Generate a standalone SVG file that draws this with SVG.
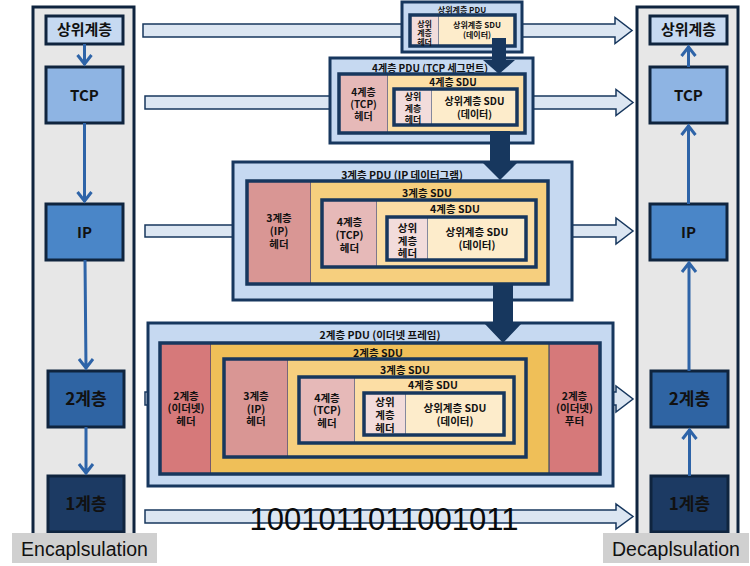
<svg xmlns="http://www.w3.org/2000/svg" width="750" height="566" viewBox="0 0 750 566">
<style>
text{font-family:"Noto Sans CJK KR","Liberation Sans",sans-serif;fill:#111;text-anchor:middle}
.col{fill:#e7e7e7;stroke:#0f243e;stroke-width:3}
.lyr{stroke:#0f243e;stroke-width:3}
.lt{font-size:15px;font-weight:bold}
.lt2{font-size:17px;font-weight:bold}
.lbl{fill:#d0d0d0}
.lbt{font-family:"Liberation Sans",sans-serif;font-size:19.5px;fill:#111}
.vl{stroke:#2e64a8;stroke-width:3;fill:none}
.ha{fill:#dce6f2;stroke:#17375e;stroke-width:1.5}
.da{fill:#17375e}
.pdu{fill:#c6d9f1;stroke:#17375e;stroke-width:3}
.frm{fill:none;stroke:#17375e;stroke-width:3.5}
.h4{fill:#f2dcdb;stroke:#17375e;stroke-width:1}
.hT{fill:#e6b9b8;stroke:#17375e;stroke-width:1}
.hI{fill:#d99694;stroke:#17375e;stroke-width:1}
.hE{fill:#d6797a;stroke:#17375e;stroke-width:1}
.dat{fill:#fdeccb}
.s4{fill:#fcdea5}
.s3{fill:#f6cf7e}
.s2{fill:#efbf58}
.t11{font-size:10.5px;font-weight:bold}
.t10{font-size:10px;font-weight:bold}
.t9{font-size:9px;font-weight:bold}
.t8{font-size:8px;font-weight:bold}
.bin{font-family:"Liberation Sans",sans-serif;font-size:31px;fill:#0a0a0a}
</style>

<!-- horizontal flow arrows -->
<g id="flow-arrows">
<polygon class="ha" points="143,24 615,24 615,17.5 632,30.5 615,43.5 615,37 143,37"/>
<polygon class="ha" points="145,96 616,96 616,89.5 633,102.5 616,115.5 616,109 145,109"/>
<polygon class="ha" points="145,225 616,225 616,218 633,231 616,244 616,237 145,237"/>
<polygon class="ha" points="145,392 616,392 616,386 633,399 616,412 616,405 145,405"/>
<polygon class="ha" points="145,510 616,510 616,504 633,516.5 616,529 616,523 145,523"/>
</g>

<!-- left column: encapsulation -->
<g id="encap-column">
<rect class="col" x="33" y="7" width="101" height="535"/>
</g>
<g id="enc-upper"><rect class="lyr" x="46" y="16" width="77" height="28" fill="#c6d9f1"/><text class="lt" x="84.5" y="35">상위계층</text></g>
<g id="enc-tcp"><rect class="lyr" x="46" y="67" width="77" height="56" fill="#8eb4e3"/><text class="lt" x="84.5" y="100.5">TCP</text></g>
<g id="enc-ip"><rect class="lyr" x="46" y="204" width="77" height="56" fill="#4a86c8"/><text class="lt" x="84.5" y="237.5">IP</text></g>
<g id="enc-l2"><rect class="lyr" x="48" y="371" width="76" height="56" fill="#2f64a3"/><text class="lt2" x="86" y="405">2계층</text></g>
<g id="enc-l1"><rect class="lyr" x="48" y="476" width="76" height="56" fill="#1c3a63"/><text class="lt2" x="86" y="510">1계층</text></g>

<!-- right column: decapsulation -->
<g id="decap-column">
<rect class="col" x="637" y="7" width="101" height="535"/>
</g>
<g id="dec-upper"><rect class="lyr" x="650" y="16" width="77" height="28" fill="#c6d9f1"/><text class="lt" x="688.5" y="35">상위계층</text></g>
<g id="dec-tcp"><rect class="lyr" x="650" y="67" width="77" height="56" fill="#8eb4e3"/><text class="lt" x="688.5" y="100.5">TCP</text></g>
<g id="dec-ip"><rect class="lyr" x="650" y="204" width="77" height="56" fill="#4a86c8"/><text class="lt" x="688.5" y="237.5">IP</text></g>
<g id="dec-l2"><rect class="lyr" x="651" y="371" width="77" height="56" fill="#2f64a3"/><text class="lt2" x="689.5" y="405">2계층</text></g>
<g id="dec-l1"><rect class="lyr" x="651" y="476" width="77" height="56" fill="#1c3a63"/><text class="lt2" x="689.5" y="510">1계층</text></g>

<!-- column connectors -->
<g id="column-connectors">
<path class="vl" d="M84.5,44 V65 M77.5,55 L84.5,64 L91.5,55"/>
<path class="vl" d="M84.5,123 V202 M77.5,192 L84.5,201 L91.5,192"/>
<path class="vl" d="M85,260 L86,369 M79,359 L86,368 L93,359"/>
<path class="vl" d="M86,427 V474 M79,464 L86,473 L93,464"/>
<path class="vl" d="M688.5,67 V46 M681.5,56 L688.5,47 L695.5,56"/>
<path class="vl" d="M688.5,204 V125 M681.5,135 L688.5,126 L695.5,135"/>
<path class="vl" d="M689,371 V262 M682,272 L689,263 L696,272"/>
<path class="vl" d="M689.5,476 V429 M682.5,439 L689.5,430 L696.5,439"/>
</g>

<!-- upper layer PDU -->
<g id="pdu-upper">
<rect class="pdu" x="402" y="2" width="120" height="50"/>
<text class="t8" x="462" y="13">상위계층 PDU</text>
<rect class="h4" x="410" y="15" width="29" height="31"/>
<rect class="dat" x="439" y="15" width="76" height="31"/>
<rect class="frm" x="410" y="15" width="105" height="31"/>
<text class="t8" x="424.5" y="27">상위</text><text class="t8" x="424.5" y="36">계층</text><text class="t8" x="424.5" y="45">헤더</text>
<text class="t8" x="477" y="28">상위계층 SDU</text><text class="t8" x="477" y="38">(데이터)</text>
</g>

<!-- layer 4 PDU -->
<g id="pdu-l4">
<rect class="pdu" x="330" y="58" width="203" height="85"/>
<text class="t10" x="430" y="72">4계층 PDU (TCP 세그먼트)</text>
<rect class="hT" x="339" y="74" width="49" height="59"/>
<rect class="s4" x="388" y="74" width="137" height="59"/>
<rect class="frm" x="339" y="74" width="186" height="59"/>
<text class="t10" x="363.5" y="95.5">4계층</text><text class="t10" x="363.5" y="107.5">(TCP)</text><text class="t10" x="363.5" y="119.5">헤더</text>
<text class="t10" x="453" y="85.5">4계층 SDU</text>
<rect class="h4" x="394" y="89" width="38" height="36"/>
<rect class="dat" x="432" y="89" width="85" height="36"/>
<rect class="frm" x="394" y="89" width="123" height="36"/>
<text class="t9" x="413" y="99.5">상위</text><text class="t9" x="413" y="111.5">계층</text><text class="t9" x="413" y="123">헤더</text>
<text class="t10" x="474.5" y="105">상위계층 SDU</text><text class="t10" x="474.5" y="117.5">(데이터)</text>
</g>

<!-- layer 3 PDU -->
<g id="pdu-l3">
<rect class="pdu" x="233" y="162" width="339" height="138"/>
<text class="t11" x="402" y="179">3계층 PDU (IP 데이터그램)</text>
<rect class="hI" x="247" y="181" width="64" height="103"/>
<rect class="s3" x="311" y="181" width="237" height="103"/>
<rect class="frm" x="247" y="181" width="301" height="103"/>
<text class="t11" x="279" y="222">3계층</text><text class="t11" x="279" y="235">(IP)</text><text class="t11" x="279" y="248">헤더</text>
<text class="t11" x="427" y="197">3계층 SDU</text>
<rect class="hT" x="322" y="200" width="55" height="67"/>
<rect class="s4" x="377" y="200" width="159" height="67"/>
<rect class="frm" x="322" y="200" width="214" height="67"/>
<text class="t11" x="349.5" y="226">4계층</text><text class="t11" x="349.5" y="239">(TCP)</text><text class="t11" x="349.5" y="252">헤더</text>
<text class="t11" x="455" y="213">4계층 SDU</text>
<rect class="h4" x="387" y="217" width="41" height="43"/>
<rect class="dat" x="428" y="217" width="98" height="43"/>
<rect class="frm" x="387" y="217" width="139" height="43"/>
<text class="t11" x="407.5" y="232">상위</text><text class="t11" x="407.5" y="244.5">계층</text><text class="t11" x="407.5" y="257">헤더</text>
<text class="t11" x="477" y="235.5">상위계층 SDU</text><text class="t11" x="477" y="249">(데이터)</text>
</g>

<!-- layer 2 PDU -->
<g id="pdu-l2">
<rect class="pdu" x="148" y="323" width="465" height="163"/>
<text class="t11" x="380" y="339">2계층 PDU (이더넷 프레임)</text>
<rect class="hE" x="160" y="343" width="51" height="131"/>
<rect class="s2" x="211" y="343" width="338" height="131"/>
<rect class="hE" x="549" y="343" width="51" height="131"/>
<rect class="frm" x="160" y="343" width="440" height="131"/>
<text class="t11" x="186" y="399.5">2계층</text><text class="t11" x="186" y="412">(이더넷)</text><text class="t11" x="186" y="424.5">헤더</text>
<text class="t11" x="574.5" y="399.5">2계층</text><text class="t11" x="574.5" y="412">(이더넷)</text><text class="t11" x="574.5" y="424.5">푸터</text>
<text class="t11" x="378" y="357">2계층 SDU</text>
<rect class="hI" x="224" y="359" width="64" height="98"/>
<rect class="s3" x="288" y="359" width="238" height="98"/>
<rect class="frm" x="224" y="359" width="302" height="98"/>
<text class="t11" x="256" y="400">3계층</text><text class="t11" x="256" y="412.5">(IP)</text><text class="t11" x="256" y="425">헤더</text>
<text class="t11" x="405" y="374">3계층 SDU</text>
<rect class="hT" x="299" y="377" width="56" height="66"/>
<rect class="s4" x="355" y="377" width="159" height="66"/>
<rect class="frm" x="299" y="377" width="215" height="66"/>
<text class="t11" x="327" y="401.5">4계층</text><text class="t11" x="327" y="414">(TCP)</text><text class="t11" x="327" y="426.5">헤더</text>
<text class="t11" x="433" y="389">4계층 SDU</text>
<rect class="h4" x="364" y="393" width="42" height="42"/>
<rect class="dat" x="406" y="393" width="98" height="42"/>
<rect class="frm" x="364" y="393" width="140" height="42"/>
<text class="t11" x="385" y="406">상위</text><text class="t11" x="385" y="419">계층</text><text class="t11" x="385" y="432">헤더</text>
<text class="t11" x="455" y="411.5">상위계층 SDU</text><text class="t11" x="455" y="424.5">(데이터)</text>
</g>

<!-- downward encapsulation arrows -->
<g id="down-arrows">
<polygon class="da" points="492,38 506,38 506,60 515,60 499,74 483,60 492,60"/>
<polygon class="da" points="490,131 510,131 510,161 519,161 500,180 481,161 490,161"/>
<polygon class="da" points="493,284 513,284 513,323 522,323 503,343 484,323 493,323"/>
</g>

<g id="bits">
<text class="bin" x="384" y="530">1001011011001011</text>
</g>

<g id="label-encap"><rect class="lbl" x="12" y="533" width="145" height="30"/><text class="lbt" x="84.5" y="556">Encaplsulation</text></g>
<g id="label-decap"><rect class="lbl" x="603" y="533" width="146" height="30"/><text class="lbt" x="676" y="556">Decaplsulation</text></g>
</svg>
